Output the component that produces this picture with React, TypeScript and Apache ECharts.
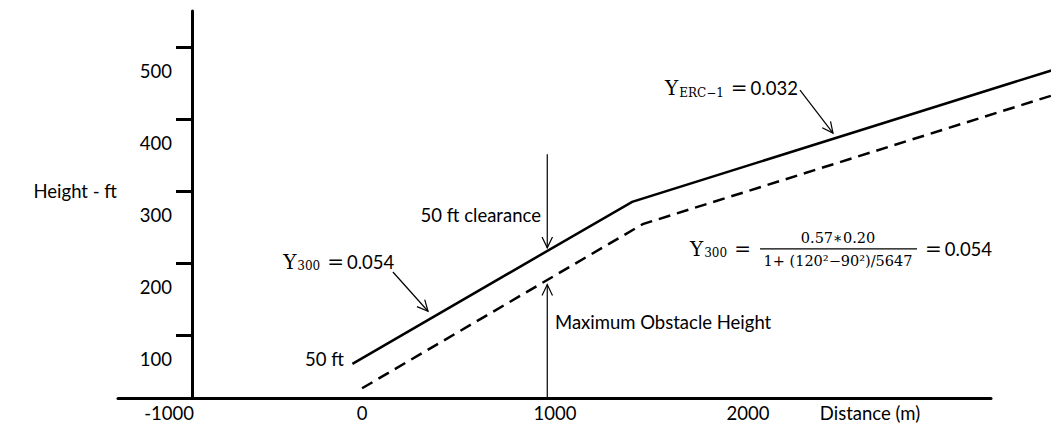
import React, { useEffect, useRef } from "react";
import * as echarts from "echarts";

// ---- axes ----
const X_TICKS = [-1000, 0, 1000, 2000];
const Y_TICKS = [100, 200, 300, 400, 500];
const X_MIN = -1265;
const X_MAX = 3260;
const Y_MIN = 12.5;
const Y_MAX = 550;
const X_NAME = "Distance (m)";
const Y_NAME = "Height - ft";

// ---- flight path (solid) and obstacle limit (dashed) ----
const PATH_X = [-50, 1400, 3580];
const PATH_Y = [60, 285, 468];
const OBST_X = [0, 1455, 3580];
const OBST_Y = [26, 254, 433];

// ---- arrows: from (X1,Y1) to tip (X2,Y2) ----
const ARROW_X1 = [960, 960, 160, 2270];
const ARROW_Y1 = [351, 12.5, 187.5, 440];
const ARROW_X2 = [960, 960, 342, 2441];
const ARROW_Y2 = [221, 170, 133, 380.5];

// ---- plain notes ----
const NOTE_TEXT = ["50 ft", "50 ft clearance", "Maximum Obstacle Height"];
const NOTE_X = [-94, 927, 1000];
const NOTE_Y = [66.7, 266.7, 118];

// ---- gradient notes ----
const GRAD_SUB = ["300", "ERC−1"];
const GRAD_VAL = ["0.054", "0.032"];
const GRAD_X = [-409, 1570];
const GRAD_Y = [201.8, 442.6];

// ---- formula ----
const FORMULA_SUB = "300";
const FORMULA_NUM = "0.57∗0.20";
const FORMULA_DEN = "1+ (120²−90²)/5647";
const FORMULA_VAL = "0.054";
const FORMULA_X = 1700;
const FORMULA_Y = 219.5;

const SANS = 'Lato, "Noto Sans", sans-serif';
const SERIF = '"DejaVu Serif", "Liberation Serif", serif';
const INK = "#000";
const FS = 18.5;
const NOTE_ALIGN = ["right", "right", "left"];

const mathRich = {
  Y: { fontFamily: SERIF, fontSize: 20, lineHeight: 24, fill: INK, color: INK, verticalAlign: "middle" },
  s: { fontFamily: SERIF, fontSize: 12, lineHeight: 13, padding: [9, 0, 0, 1], fill: INK, color: INK, verticalAlign: "middle" },
  eq: { fontFamily: SERIF, fontSize: 20, lineHeight: 24, padding: [0, 3, 0, 7], fill: INK, color: INK, verticalAlign: "middle" },
  eq2: { fontFamily: SERIF, fontSize: 20, lineHeight: 24, padding: [0, 3, 0, 0], fill: INK, color: INK, verticalAlign: "middle" },
  n: { fontFamily: SANS, fontSize: FS, lineHeight: 24, fill: INK, color: INK, verticalAlign: "middle" },
};

function polylineRenderer(xs: number[], ys: number[], dash: number[] | null) {
  return (params: any, api: any) => {
    const pts = xs.map((x, i) => api.coord([x, ys[i]]));
    return {
      type: "polyline",
      shape: { points: pts },
      style: { stroke: INK, fill: "none", lineWidth: 2.5, lineDash: dash || undefined },
    };
  };
}

export default function App() {
  const ref = useRef<HTMLDivElement>(null);

  useEffect(() => {
    if (!ref.current) return;
    const chart = echarts.init(ref.current, null, { renderer: "svg" });

    const option: any = {
      animation: false,
      backgroundColor: "#fff",
      grid: { left: 118, right: 60, top: 11, bottom: 25, outerBoundsMode: "none", containLabel: false },
      xAxis: {
        type: "value",
        min: X_MIN,
        max: X_MAX,
        name: `{a|${X_NAME}}`,
        nameLocation: "end",
        nameGap: -121,
        nameTextStyle: {
          align: "center",
          verticalAlign: "middle",
          rich: {
            a: { fontFamily: SANS, fontSize: FS, color: INK, lineHeight: 22, padding: [30, 0, 0, 0] },
          },
        },
        axisLine: { show: true, onZero: false, lineStyle: { color: INK, width: 3 } },
        axisTick: { show: false },
        splitLine: { show: false },
        axisLabel: {
          customValues: X_TICKS,
          formatter: (v: number) => String(v),
          fontFamily: SANS,
          fontSize: FS,
          color: INK,
          margin: 5,
        },
      },
      yAxis: {
        type: "value",
        min: Y_MIN,
        max: Y_MAX,
        offset: -74,
        name: `{a|${Y_NAME}}`,
        nameLocation: "middle",
        nameRotate: 0,
        nameGap: 75,
        nameTextStyle: {
          align: "right",
          verticalAlign: "middle",
          rich: {
            a: { fontFamily: SANS, fontSize: FS, color: INK, lineHeight: 22, padding: [0, 0, 27, 0] },
          },
        },
        axisLine: { show: true, onZero: false, lineStyle: { color: INK, width: 3 } },
        axisTick: {
          show: true,
          customValues: Y_TICKS,
          length: 16,
          inside: false,
          lineStyle: { color: INK, width: 3 },
        },
        splitLine: { show: false },
        axisLabel: {
          customValues: Y_TICKS,
          formatter: (v: number) => `{a|${v}}`,
          margin: 20,
          verticalAlign: "middle",
          rich: {
            a: { fontFamily: SANS, fontSize: FS, color: INK, lineHeight: 22, padding: [48, 0, 0, 0] },
          },
        },
      },
      series: [
        {
          type: "custom",
          silent: true,
          clip: false,
          data: [[PATH_X[0], PATH_Y[0]]],
          renderItem: polylineRenderer(PATH_X, PATH_Y, null),
        },
        {
          type: "custom",
          silent: true,
          clip: false,
          data: [[OBST_X[0], OBST_Y[0]]],
          renderItem: polylineRenderer(OBST_X, OBST_Y, [12, 7]),
        },
        {
          type: "custom",
          silent: true,
          clip: false,
          data: ARROW_X1.map((x, i) => [x, ARROW_Y1[i], ARROW_X2[i], ARROW_Y2[i]]),
          renderItem: (params: any, api: any) => {
            const p1 = api.coord([api.value(0), api.value(1)]);
            const p2 = api.coord([api.value(2), api.value(3)]);
            const ang = Math.atan2(p2[1] - p1[1], p2[0] - p1[0]);
            const L = 12;
            const A = 0.45;
            const a1 = [p2[0] - L * Math.cos(ang - A), p2[1] - L * Math.sin(ang - A)];
            const a2 = [p2[0] - L * Math.cos(ang + A), p2[1] - L * Math.sin(ang + A)];
            return {
              type: "group",
              children: [
                {
                  type: "line",
                  shape: { x1: p1[0], y1: p1[1], x2: p2[0], y2: p2[1] },
                  style: { stroke: INK, lineWidth: 1.2 },
                },
                {
                  type: "polyline",
                  shape: { points: [a1, p2, a2] },
                  style: { stroke: INK, fill: "none", lineWidth: 1.2 },
                },
              ],
            };
          },
        },
        {
          type: "custom",
          silent: true,
          clip: false,
          data: NOTE_X.map((x, i) => [x, NOTE_Y[i]]),
          renderItem: (params: any, api: any) => {
            const i = params.dataIndex;
            const p = api.coord([api.value(0), api.value(1)]);
            return {
              type: "text",
              x: p[0],
              y: p[1],
              style: {
                text: NOTE_TEXT[i],
                fill: INK,
                fontFamily: SANS,
                fontSize: FS,
                align: NOTE_ALIGN[i],
                verticalAlign: "middle",
              },
            };
          },
        },
        {
          type: "custom",
          silent: true,
          clip: false,
          data: GRAD_X.map((x, i) => [x, GRAD_Y[i]]),
          renderItem: (params: any, api: any) => {
            const i = params.dataIndex;
            const p = api.coord([api.value(0), api.value(1)]);
            return {
              type: "text",
              x: p[0],
              y: p[1],
              style: {
                text: `{Y|Y}{s|${GRAD_SUB[i]}}{eq|=}{n|${GRAD_VAL[i]}}`,
                rich: mathRich,
                align: "left",
                verticalAlign: "middle",
              },
            };
          },
        },
        {
          type: "custom",
          silent: true,
          clip: false,
          data: [[FORMULA_X, FORMULA_Y]],
          renderItem: (params: any, api: any) => {
            const p = api.coord([api.value(0), api.value(1)]);
            const x0 = p[0];
            const y0 = p[1];
            return {
              type: "group",
              children: [
                {
                  type: "text",
                  x: x0,
                  y: y0,
                  style: {
                    text: `{Y|Y}{s|${FORMULA_SUB}}{eq|=}`,
                    rich: mathRich,
                    align: "left",
                    verticalAlign: "middle",
                  },
                },
                {
                  type: "text",
                  x: x0 + 148,
                  y: y0 - 10.5,
                  style: {
                    text: FORMULA_NUM,
                    fill: INK,
                    fontFamily: SERIF,
                    fontSize: 14.5,
                    align: "center",
                    verticalAlign: "middle",
                  },
                },
                {
                  type: "line",
                  shape: { x1: x0 + 70, y1: y0, x2: x0 + 227, y2: y0 },
                  style: { stroke: INK, lineWidth: 1.2 },
                },
                {
                  type: "text",
                  x: x0 + 148,
                  y: y0 + 12.5,
                  style: {
                    text: FORMULA_DEN,
                    fill: INK,
                    fontFamily: SERIF,
                    fontSize: 14.5,
                    align: "center",
                    verticalAlign: "middle",
                  },
                },
                {
                  type: "text",
                  x: x0 + 235,
                  y: y0,
                  style: {
                    text: `{eq2|=}{n|${FORMULA_VAL}}`,
                    rich: mathRich,
                    align: "left",
                    verticalAlign: "middle",
                  },
                },
              ],
            };
          },
        },
      ],
    };

    chart.setOption(option);
    return () => chart.dispose();
  }, []);

  return (
    <div
      ref={ref}
      style={{ position: "fixed", left: 0, top: 0, width: 1051, height: 423, background: "#fff" }}
    />
  );
}
